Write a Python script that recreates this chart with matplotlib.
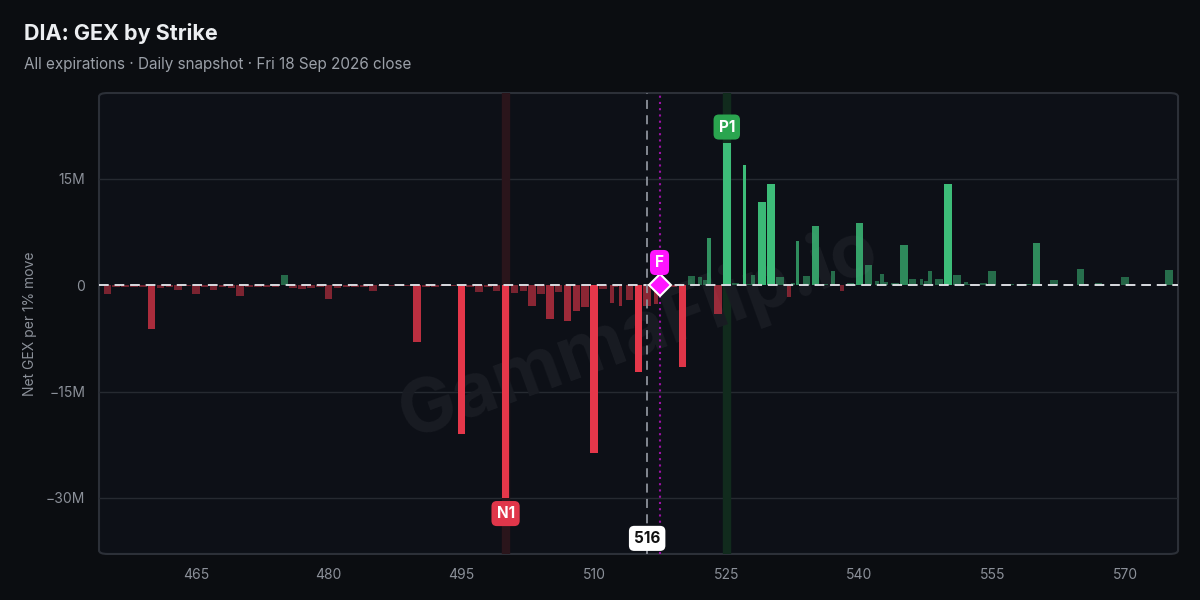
import matplotlib
matplotlib.use("Agg")
import matplotlib.pyplot as plt
from matplotlib.patches import FancyBboxPatch
import numpy as np

plt.rcParams['font.family'] = ['Inter', 'DejaVu Sans']

# strikes and net GEX (millions) per 1% move
strikes = [455, 456, 457, 458, 459, 460, 461, 462, 463, 464,
           465, 466, 467, 468, 469, 470, 471, 472, 473, 474,
           475, 476, 477, 478, 479, 480, 481, 482, 483, 484,
           485, 486, 487, 488, 489, 490, 491, 492, 493, 494,
           495, 496, 497, 498, 499, 500, 501, 502, 503, 504,
           505, 506, 507, 508, 509, 510, 511, 512, 512.5, 513,
           514, 515, 516, 517, 517.5, 518, 519, 520, 521, 522,
           522.5, 523, 524, 525, 526, 527, 527.5, 528, 529, 530,
           531, 532, 532.5, 533, 534, 535, 536, 537, 537.5, 538,
           539, 540, 541, 542, 542.5, 543, 544, 545, 546, 547,
           547.5, 548, 549, 550, 551, 552, 552.5, 553, 554, 555,
           556, 557, 558, 559, 560, 561, 562, 563, 564, 565,
           566, 567, 568, 569, 570, 571, 572, 573, 574, 575]
gex = [-1.2, -0.3, -0.3, -0.3, -0.2, -6.2, -0.4, -0.3, -0.7, -0.1,
       -1.2, -0.2, -0.7, -0.3, -0.4, -1.5, -0.2, -0.2, -0.3, -0.3,
       1.5, -0.4, -0.6, -0.4, -0.3, -2.0, -0.4, -0.3, -0.3, -0.2,
       -0.8, -0.1, -0.1, -0.1, -0.1, -8.0, -0.2, -0.2, -0.1, -0.1,
       -21.0, -0.2, -1.0, -0.3, -0.8, -30.0, -1.1, -0.8, -2.9, -1.2,
       -4.7, -0.9, -5.0, -3.7, -3.1, -23.7, -0.5, -2.5, -0.3, -2.9,
       -2.1, -12.3, -2.9, -2.6, -0.5, -0.3, -0.3, -11.6, 1.3, 1.2,
       0.7, 6.7, -4.0, 20.0, 0.3, 17.0, 0.1, 1.4, 11.7, 14.2,
       1.2, -1.7, 0.3, 6.2, 1.3, 8.3, 0.2, 2.0, 0.1, -0.8,
       0.3, 8.8, 2.9, 0.6, 1.6, 0.5, 0.3, 5.7, 0.9, 0.9,
       0.6, 2.0, 0.9, 14.2, 1.5, 0.5, 0.1, 0.1, 0.3, 2.0,
       0.05, 0.1, 0.05, 0.1, 5.9, 0.05, 0.8, 0.05, 0.05, 2.3,
       0.05, 0.3, 0.05, 0.05, 1.1, 0.05, 0.05, 0.05, 0.05, 2.2]

spot = 516
flip = 517.4
n1_strike = 500
p1_strike = 525
x_ticks = [465, 480, 495, 510, 525, 540, 555, 570]
y_ticks = [-30, -15, 0, 15]
y_labels = ['\u221230M', '\u221215M', '0', '15M']

title = 'DIA: GEX by Strike'
subtitle = 'All expirations · Daily snapshot · Fri 18 Sep 2026 close'

BG = '#0b0d11'
PLOT_BG = '#0d1017'
RED = '#e5374a'
GREEN = '#3dbd79'

fig = plt.figure(figsize=(12, 6), dpi=100, facecolor=BG)
ax = fig.add_axes([0.0825, 0.0767, 0.8992, 0.7683])
ax.set_facecolor('none')
for s in ax.spines.values():
    s.set_visible(False)

ax.set_xlim(454.05, 576.0)
ax.set_ylim(-37.9, 27.1)

# rounded plot frame
frame = FancyBboxPatch((0, 0), 1, 1, boxstyle='round,pad=0,rounding_size=0.008',
                       transform=ax.transAxes, facecolor=PLOT_BG, edgecolor='#2c3038',
                       linewidth=1.5, zorder=0, clip_on=False)
ax.add_patch(frame)

for yv in [-30, -15, 15]:
    ax.axhline(yv, color='#262a31', lw=1, zorder=1)

# highlight bands for N1 / P1
ax.axvspan(n1_strike - 0.42, n1_strike + 0.42, color='#2a151b', zorder=1)
ax.axvspan(p1_strike - 0.42, p1_strike + 0.42, color='#112b1d', zorder=1)

# watermark
ax.text(0.5, 0.48, 'GammaFlip.io', transform=ax.transAxes, fontsize=54,
        fontweight='bold', color='#191c23', rotation=20, ha='center', va='center', zorder=1)

# bars, width from the gap to the nearest strike
xs = np.array(strikes, dtype=float)
gaps = np.diff(xs)
left_gap = np.concatenate([[gaps[0]], gaps])
right_gap = np.concatenate([gaps, [gaps[-1]]])
widths = 0.85 * np.minimum(left_gap, right_gap)
for x, v, w in zip(xs, gex, widths):
    a = min(1.0, 0.45 + 0.045 * abs(v))
    ax.bar(x, v, width=w, color=RED if v < 0 else GREEN, alpha=a, lw=0, zorder=2)

ax.axhline(0, color='#d9dbe0', lw=1.4, ls=(0, (5, 3)), zorder=3)

# spot and flip lines
ax.axvline(spot, color='#8d929b', lw=1.3, ls=(0, (5, 3.5)), zorder=3)
ax.axvline(flip, color='#9c10a6', lw=1.5, ls=(0, (1, 2)), zorder=3)
ax.plot([flip], [0], marker='D', ms=11, mfc='#ff14ff', mec='white', mew=1.5, zorder=5)

def tag(x, y, s, fc, tc, pad=0.33):
    ax.text(x, y, s, ha='center', va='center', fontsize=11, fontweight='bold', color=tc,
            zorder=6, bbox=dict(boxstyle=f'round,pad={pad},rounding_size=0.35',
                                fc=fc, ec='none'))

tag(n1_strike, -32.2, 'N1', '#e0364a', 'white')
tag(p1_strike, 22.3, 'P1', '#2aa54f', 'white')
tag(flip, 3.2, 'F', '#ff14ff', 'white')
tag(spot, -35.7, str(spot), 'white', '#111111')

ax.set_xticks(x_ticks)
ax.set_xticklabels([str(t) for t in x_ticks])
ax.set_yticks(y_ticks)
ax.set_yticklabels(y_labels)
ax.tick_params(length=0, colors='#8b9099', labelsize=10, pad=10)
ax.set_ylabel('Net GEX per 1% move', color='#8b9099', fontsize=10, labelpad=6)

fig.text(0.02, 0.945, title, fontsize=15.5, fontweight='bold', color='#eceef1', va='center')
fig.text(0.02, 0.893, subtitle, fontsize=11, color='#9ba0a8', va='center')

fig.savefig('out.png', dpi=100, facecolor=BG)
